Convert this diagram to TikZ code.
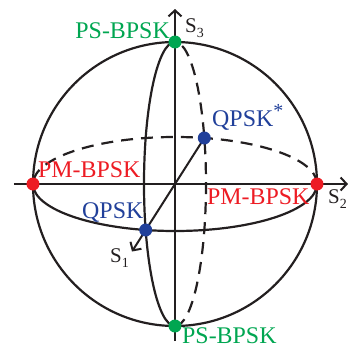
\documentclass[tikz,border=0pt]{standalone}
\usepackage{fontspec}
\setmainfont{Liberation Serif}
\usetikzlibrary{arrows.meta}
\definecolor{stateGreen}{HTML}{00A651}
\definecolor{stateRed}{HTML}{ED1C24}
\definecolor{stateBlue}{HTML}{21409A}
\definecolor{lineBlack}{HTML}{231F20}

\newcommand{\sub}[1]{\raisebox{-5bp}{\fontsize{14}{14}\selectfont #1}}

\begin{document}
\begin{tikzpicture}[x=1bp,y=1bp,
 sphere/.style={line width=2.2bp,draw=lineBlack},
 hidden/.style={sphere,dash pattern=on 12bp off 8bp},
 axis/.style={line width=2bp,draw=lineBlack,-{Straight Barb[length=6bp,width=13bp]}},
 dot/.style={circle,inner sep=0pt,minimum size=13bp},
 state/.style={font=\fontsize{24}{28}\selectfont,inner sep=0pt},
 axislabel/.style={font=\fontsize{21}{24}\selectfont,text=lineBlack,inner sep=0pt}
]
\useasboundingbox (-175,-164) rectangle (174,184);
\coordinate (o) at (0,0);

% sphere, equator and meridian
\draw[sphere] (o) circle[radius=142];
\draw[sphere] (-142,0) arc[start angle=180,end angle=360,x radius=142,y radius=47];
\draw[hidden] (142,0) arc[start angle=0,end angle=180,x radius=142,y radius=47];
\draw[sphere] (0,142) arc[start angle=90,end angle=270,x radius=31,y radius=142];
\draw[hidden] (0,-142) arc[start angle=-90,end angle=90,x radius=31,y radius=142];

% axes
\coordinate (s2tail) at (-161,0);
\coordinate (s2head) at (173,0);
\coordinate (s3tail) at (0,-157);
\coordinate (s3head) at (0,175);
\coordinate (s1head) at (-43,-67.5);
\draw[axis] (s2tail) -- (s2head);
\draw[axis] (s3tail) -- (s3head);

% states
\node[dot,fill=stateGreen] (psTop) at (0,142) {};
\node[dot,fill=stateGreen] (psBot) at (0,-142) {};
\node[dot,fill=stateRed] (pmLeft) at (-142,0) {};
\node[dot,fill=stateRed] (pmRight) at (142,0) {};
\coordinate (qpskPos) at (-29.3,-46);
\coordinate (qpskStarPos) at (29.3,46);
\draw[axis] (qpskStarPos) -- (s1head);
\node[dot,fill=stateBlue] (qpsk) at (qpskPos) {};
\node[dot,fill=stateBlue] (qpskStar) at (qpskStarPos) {};

% labels
\node[state,text=stateGreen,anchor=base east] (psTopText) at (-5,146) {PS-BPSK};
\node[state,text=stateGreen,anchor=base west] (psBotText) at (7,-159) {PS-BPSK};
\node[state,text=stateRed,anchor=base west] (pmLeftText) at (-137,7) {PM-BPSK};
\node[state,text=stateRed,anchor=base west] (pmRightText) at (32,-20) {PM-BPSK};
\node[state,text=stateBlue,anchor=base west] (qpskText) at (-93,-34) {QPSK};
\node[state,text=stateBlue,anchor=base west] (qpskStarText) at (37,58) {QPSK\textsuperscript{\fontsize{20}{20}\selectfont *}};
\node[axislabel,anchor=base west] (s3Text) at (10,152) {S\sub{3}};
\node[axislabel,anchor=base west] (s2Text) at (153,-19) {S\sub{2}};
\node[axislabel,anchor=base west] (s1Text) at (-65,-78) {S\sub{1}};
\end{tikzpicture}
\end{document}
